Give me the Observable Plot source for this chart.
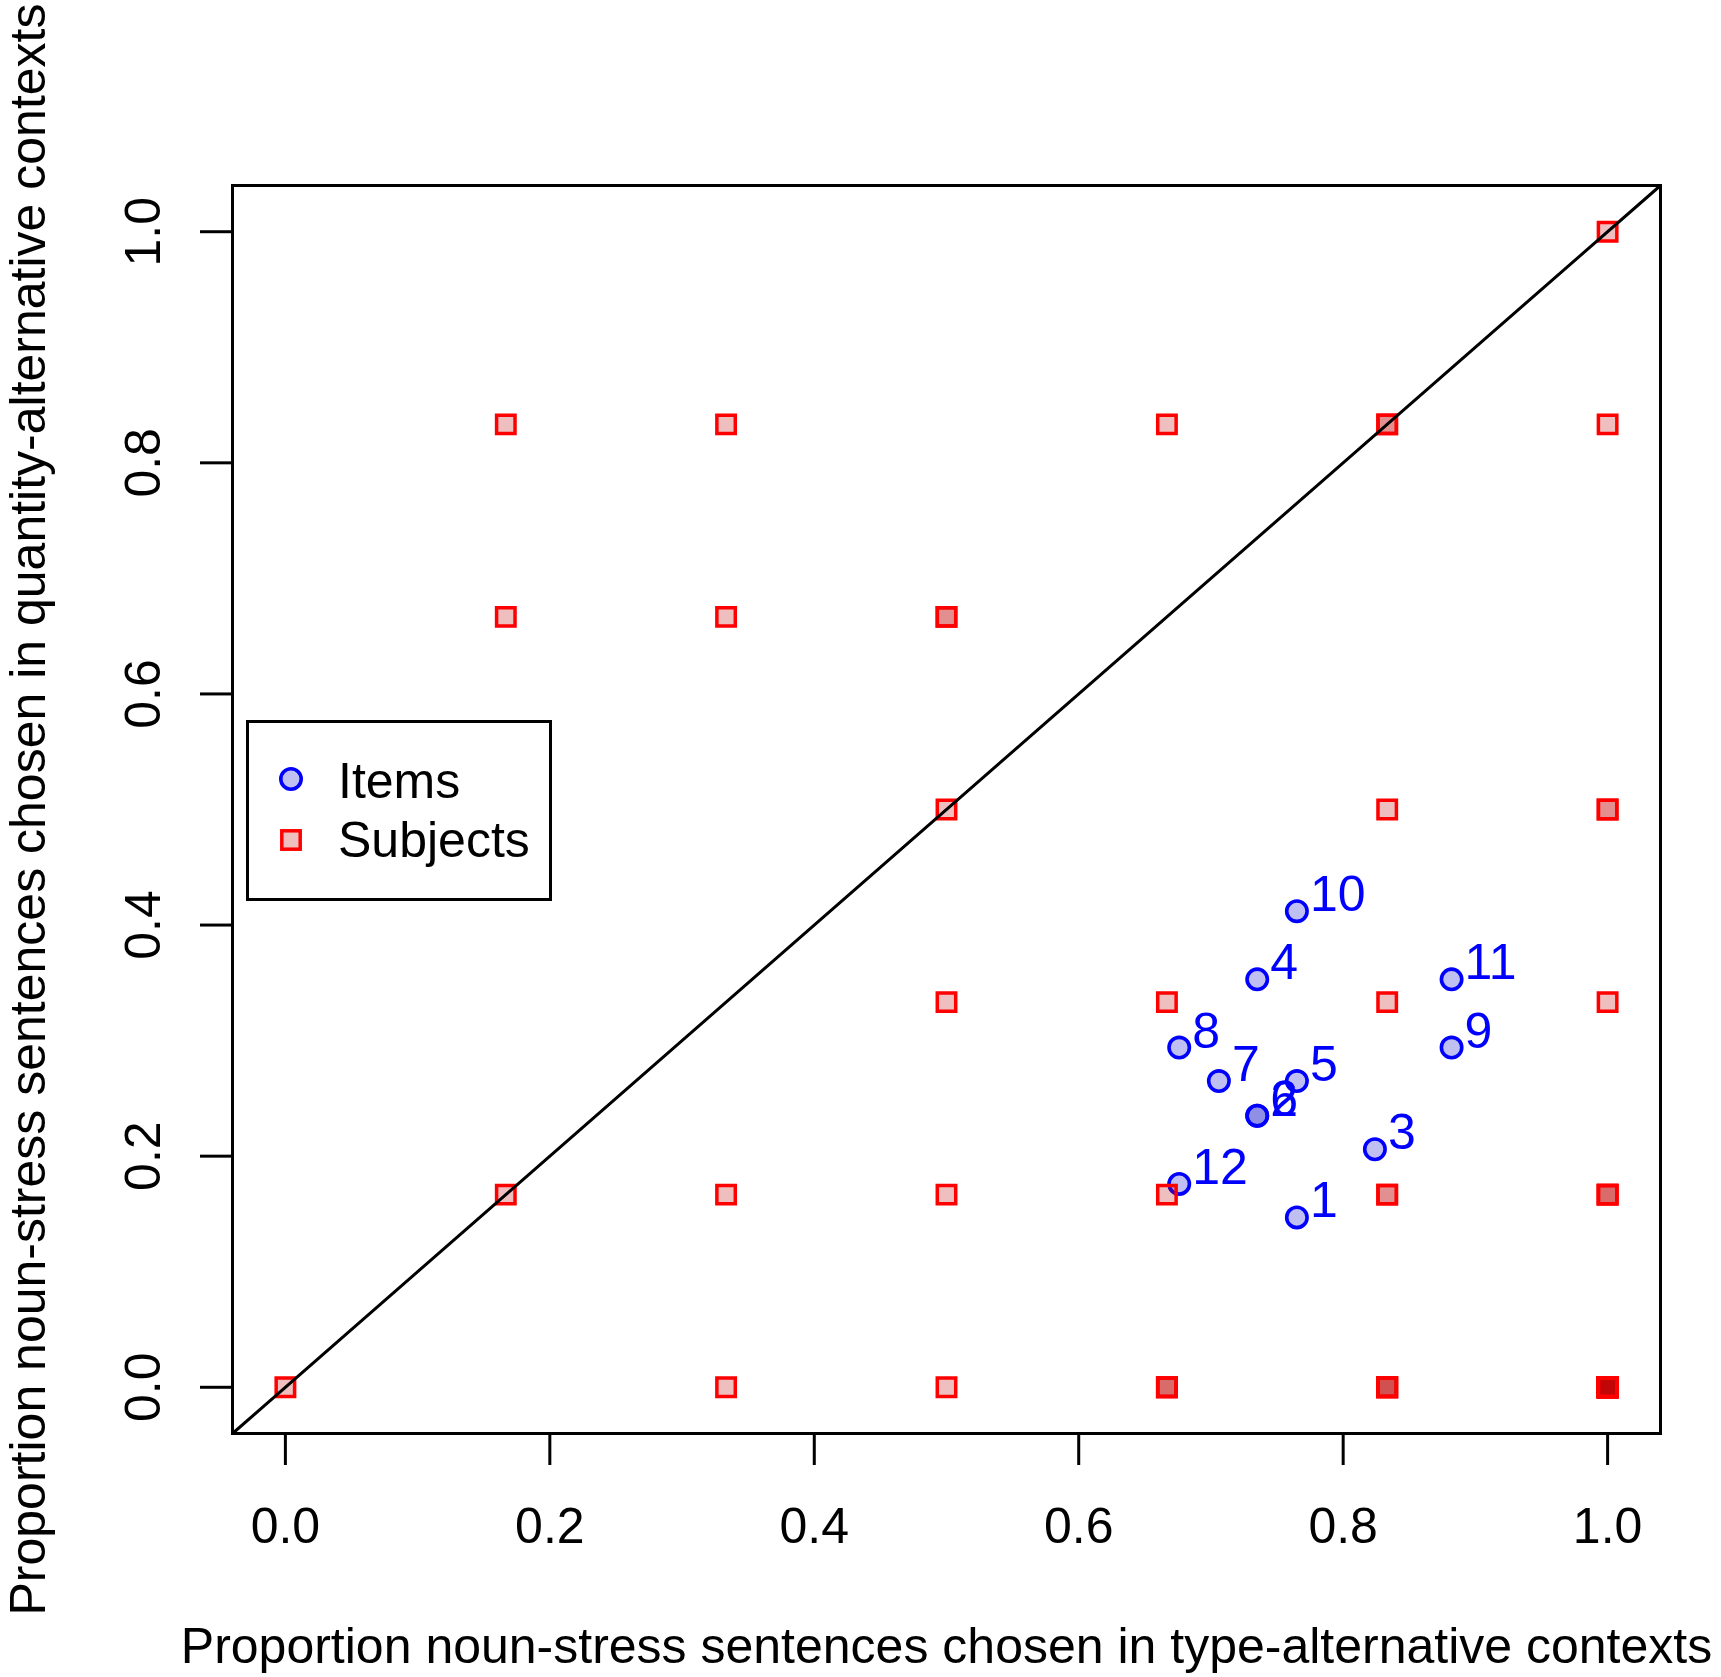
<!DOCTYPE html>
<html>
<head>
<meta charset="utf-8">
<script src="https://cdn.jsdelivr.net/npm/d3@7"></script>
<script src="https://cdn.jsdelivr.net/npm/@observablehq/plot@0.6"></script>
<style>
  html, body { margin: 0; padding: 0; background: white; }
  #wrap { position: relative; width: 1721px; height: 1677px; font-family: "Liberation Sans", Arial, sans-serif; }
  #legend { position: absolute; left: 246px; top: 720px; }
</style>
</head>
<body>
<div id="wrap"></div>
<script>
// ---- data ----
const itemIds = [1, 2, 3, 4, 5, 6, 7, 8, 9, 10, 11, 12];
const itemX = [0.765, 0.735, 0.824, 0.735, 0.765, 0.735, 0.706, 0.676, 0.882, 0.765, 0.882, 0.676];
const itemY = [0.147, 0.235, 0.206, 0.353, 0.265, 0.235, 0.265, 0.294, 0.294, 0.412, 0.353, 0.176];

const subjX = [1.000,
  0.1667, 0.3333, 0.6667, 0.8333, 1.000,
  0.1667, 0.3333, 0.500,
  0.500, 0.8333, 1.000,
  0.500, 0.6667, 0.8333, 1.000,
  0.1667, 0.3333, 0.500, 0.6667, 0.8333, 1.000,
  0.000, 0.3333, 0.500, 0.6667, 0.8333, 1.000];
const subjY = [1.000,
  0.8333, 0.8333, 0.8333, 0.8333, 0.8333,
  0.6667, 0.6667, 0.6667,
  0.500, 0.500, 0.500,
  0.3333, 0.3333, 0.3333, 0.3333,
  0.1667, 0.1667, 0.1667, 0.1667, 0.1667, 0.1667,
  0.000, 0.000, 0.000, 0.000, 0.000, 0.000];
const subjN = [1,
  1, 1, 1, 2, 1,
  1, 1, 2,
  1, 1, 2,
  1, 1, 1, 1,
  1, 1, 1, 1, 2, 3,
  1, 1, 1, 3, 4, 12];

const xTicks = [0, 0.2, 0.4, 0.6, 0.8, 1.0];
const yTicks = [0, 0.2, 0.4, 0.6, 0.8, 1.0];
const xDomain = [-0.04, 1.04];
const yDomain = [-0.04, 1.04];
const xTitle = "Proportion noun-stress sentences chosen in type-alternative contexts";
const yTitle = "Proportion noun-stress sentences chosen in quantity-alternative contexts";
const legendLabels = ["Items", "Subjects"];

// ---- tables ----
const items = itemIds.map((id, i) => ({id, x: itemX[i], y: itemY[i]}));
const subjects = subjX.flatMap((x, i) => Array.from({length: subjN[i]}, () => ({x, y: subjY[i]})));

const FS = 50;
const font = "Liberation Sans, Arial, sans-serif";
const LW = 3;

const chart = Plot.plot({
  width: 1721,
  height: 1677,
  marginLeft: 232,
  marginRight: 61,
  marginTop: 185,
  marginBottom: 244,
  style: {fontFamily: font, fontSize: FS + "px", background: "white", color: "black"},
  x: {domain: xDomain},
  y: {domain: yDomain},
  marks: [
    Plot.axisX({ticks: xTicks, tickSize: 32, tickPadding: 42, tickFormat: d => d.toFixed(1),
      strokeWidth: LW, fontSize: FS, label: null}),
    Plot.axisY({ticks: yTicks, tickSize: 32, tickPadding: 41, tickRotate: -90, tickFormat: d => d.toFixed(1),
      strokeWidth: LW, fontSize: FS, label: null}),
    Plot.dot(items, {x: "x", y: "y", r: 10.2, symbol: "circle", fill: "rgb(0,0,200)", fillOpacity: 0.25,
      stroke: "blue", strokeWidth: 3.6}),
    Plot.dot(subjects, {x: "x", y: "y", r: 10.4, symbol: "square", fill: "rgb(190,0,0)", fillOpacity: 0.25,
      stroke: "red", strokeWidth: 3.5}),
    Plot.line(xDomain, {x: d => d, y: d => d, stroke: "black", strokeWidth: LW}),
    Plot.text(items, {x: "x", y: "y", text: d => String(d.id), textAnchor: "start", lineAnchor: "bottom",
      dx: 13, fill: "blue", fontSize: FS}),
    Plot.frame({stroke: "black", strokeWidth: LW}),
    Plot.text([xTitle], {text: d => d, frameAnchor: "bottom", textAnchor: "middle", lineAnchor: "bottom",
      dy: 229, fontSize: FS, fill: "black"}),
    Plot.text([yTitle], {text: d => d, frameAnchor: "left", textAnchor: "middle", rotate: -90, lineAnchor: "bottom",
      dx: -188, fontSize: FS, fill: "black"})
  ]
});

const wrap = document.getElementById("wrap");
wrap.appendChild(chart);

// ---- legend ----
const ns = "http://www.w3.org/2000/svg";
const lg = document.createElementNS(ns, "svg");
lg.setAttribute("id", "legend");
lg.setAttribute("width", 306);
lg.setAttribute("height", 182);
lg.innerHTML = `
  <rect x="1.5" y="1.5" width="303" height="178" fill="white" stroke="black" stroke-width="3"/>
  <circle cx="45" cy="59" r="10.2" fill="rgb(0,0,200)" fill-opacity="0.25" stroke="blue" stroke-width="3.6"/>
  <rect x="35.8" y="110.8" width="18.4" height="18.4" fill="rgb(190,0,0)" fill-opacity="0.25" stroke="red" stroke-width="3.5"/>
  <text x="92" y="78" font-family="${font}" font-size="${FS}" fill="black">${legendLabels[0]}</text>
  <text x="92" y="137" font-family="${font}" font-size="${FS}" fill="black">${legendLabels[1]}</text>
`;
wrap.appendChild(lg);
</script>
</body>
</html>
